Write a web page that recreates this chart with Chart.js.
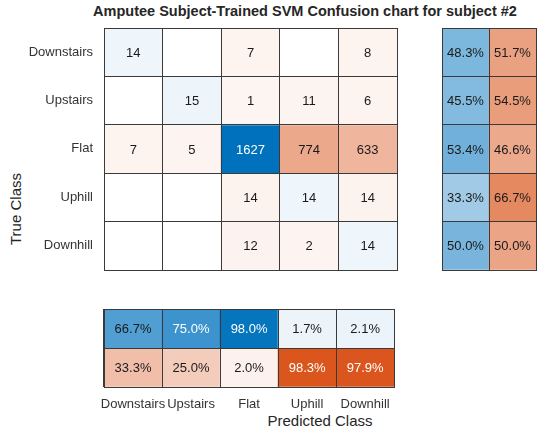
<!DOCTYPE html>
<html>
<head>
<meta charset="utf-8">
<script src="https://cdn.jsdelivr.net/npm/chart.js@4.4.0/dist/chart.umd.min.js"></script>
<style>
  html, body { margin: 0; padding: 0; background: #fff; }
  #wrap { position: relative; width: 550px; height: 436px; overflow: hidden; font-family: "Liberation Sans", Arial, sans-serif; }
  .box { position: absolute; }
  .txt { position: absolute; color: #262626; white-space: nowrap; }
</style>
</head>
<body>
<div id="wrap">
  <div class="txt" style="left:5px;width:600px;top:3px;text-align:center;font-weight:bold;font-size:14.5px;">Amputee Subject-Trained SVM Confusion chart for subject #2</div>
  <div class="txt" style="left:220px;width:200px;top:412px;text-align:center;font-size:15px;">Predicted Class</div>
  <div class="txt" style="left:-44px;top:199px;width:120px;height:20px;line-height:20px;text-align:center;font-size:15px;transform:rotate(-90deg);">True Class</div>
  <div class="box" style="left:0;top:0;width:400px;height:290px;"><canvas id="mainChart"></canvas></div>
  <div class="box" style="left:440px;top:0;width:100px;height:280px;"><canvas id="rowChart"></canvas></div>
  <div class="box" style="left:0;top:290px;width:400px;height:146px;"><canvas id="colChart"></canvas></div>
</div>
<script>
const classes = ['Downstairs', 'Upstairs', 'Flat', 'Uphill', 'Downhill']
// rows = true class, columns = predicted class (0 = empty cell)
const counts = [
    [14, 0, 7, 0, 8],
    [0, 15, 1, 11, 6],
    [7, 5, 1627, 774, 633],
    [0, 0, 14, 14, 14],
    [0, 0, 12, 2, 14]
]
const rowCorrect = [48.3, 45.5, 53.4, 33.3, 50.0]
const rowWrong = [51.7, 54.5, 46.6, 66.7, 50.0]
const colCorrect = [66.7, 75.0, 98.0, 1.7, 2.1]
const colWrong = [33.3, 25.0, 2.0, 98.3, 97.9]

const blue = [0, 114, 189]
const orange = [217, 83, 25]
const lineColor = '#3a3a3a'
const tickColor = '#333333'
const fontFamily = '"Liberation Sans", Arial, sans-serif'

function shade(frac, base){
    if (!(frac > 0)) return '#ffffff'
    const t = 0.06 + 0.94 * Math.min(frac, 1)
    const c = base.map(b => Math.round(255 - t * (255 - b)))
    return `rgb(${c[0]}, ${c[1]}, ${c[2]})`
}

const cellText = {
    id: 'cellText',
    afterDatasetsDraw(chart){
        const ctx = chart.ctx
        ctx.save()
        ctx.font = '13px ' + fontFamily
        ctx.textAlign = 'center'
        ctx.textBaseline = 'middle'
        chart.data.datasets.forEach((ds, i) => {
            chart.getDatasetMeta(i).data.forEach((bar, j) => {
                const txt = ds.texts[j]
                if (!txt) return
                const p = bar.getCenterPoint()
                ctx.fillStyle = ds.textColors[j]
                ctx.fillText(txt, p.x, p.y + 1)
            })
        })
        ctx.restore()
    }
}

// one dataset per row; each cell is a floating bar [row bottom, row top]
function buildRows(values, cols, nRows, colorFor, textFor, fracFor){
    return values.map((row, i) => ({
        data: row.map((v, j) => ({x: cols[j], y: [nRows - 1 - i, nRows - i]})),
        backgroundColor: row.map((v, j) => colorFor(v, i, j)),
        texts: row.map(v => textFor(v)),
        textColors: row.map((v, j) => fracFor(v, i, j) > 0.7 ? '#ffffff' : '#1a1a1a')
    }))
}

function gridOptions(cols, nRows, opts){
    return {
        responsive: true,
        maintainAspectRatio: false,
        animation: false,
        layout: {padding: opts.padding, autoPadding: false},
        plugins: {legend: {display: false}, tooltip: {enabled: false}},
        datasets: {bar: {grouped: false, barPercentage: 1, categoryPercentage: 1, borderWidth: 0}},
        scales: {
            x: {
                type: 'category',
                labels: cols,
                offset: true,
                grid: {offset: true, color: lineColor, drawTicks: false, z: 1},
                border: {color: lineColor, z: 1},
                ticks: {
                    display: opts.xTicks,
                    color: tickColor,
                    padding: 10,
                    maxRotation: 0,
                    autoSkip: false,
                    font: {size: 13, family: fontFamily}
                },
                afterFit: s => { s.height = opts.xHeight }
            },
            y: {
                type: 'linear',
                min: 0,
                max: nRows,
                grid: {color: lineColor, drawTicks: false, z: 1},
                border: {color: lineColor, z: 1},
                ticks: {
                    display: opts.yTicks,
                    stepSize: 1,
                    padding: 11,
                    labelOffset: 24,
                    color: tickColor,
                    font: {size: 13, family: fontFamily},
                    callback: v => (v >= 1 ? classes[nRows - v] : '')
                },
                afterFit: s => { s.width = opts.yWidth }
            }
        }
    }
}

const mainMax = Math.max(...counts.flat())
new Chart(document.getElementById('mainChart'), {
    type: 'bar',
    data: {
        datasets: buildRows(counts, classes, classes.length,
            (v, i, j) => shade(v / mainMax, i === j ? blue : orange),
            v => (v > 0 ? String(v) : ''),
            v => v / mainMax)
    },
    options: gridOptions(classes, classes.length,
        {padding: {top: 28, right: 3, bottom: 0, left: 0}, xTicks: false, xHeight: 20, yTicks: true, yWidth: 104}),
    plugins: [cellText]
})

const rowPct = rowCorrect.map((c, i) => [c, rowWrong[i]])
new Chart(document.getElementById('rowChart'), {
    type: 'bar',
    data: {
        datasets: buildRows(rowPct, ['correct', 'wrong'], classes.length,
            (v, i, j) => shade(v / 100, j === 0 ? blue : orange),
            v => v.toFixed(1) + '%',
            v => v / 100)
    },
    options: gridOptions(['correct', 'wrong'], classes.length,
        {padding: {top: 28, right: 4, bottom: 0, left: 2}, xTicks: false, xHeight: 10, yTicks: false, yWidth: 0}),
    plugins: [cellText]
})

new Chart(document.getElementById('colChart'), {
    type: 'bar',
    data: {
        datasets: buildRows([colCorrect, colWrong], classes, 2,
            (v, i, j) => shade(v / 100, i === 0 ? blue : orange),
            v => v.toFixed(1) + '%',
            v => v / 100)
    },
    options: gridOptions(classes, 2,
        {padding: {top: 19, right: 3, bottom: 0, left: 0}, xTicks: true, xHeight: 49, yTicks: false, yWidth: 104}),
    plugins: [cellText]
})
</script>
</body>
</html>
